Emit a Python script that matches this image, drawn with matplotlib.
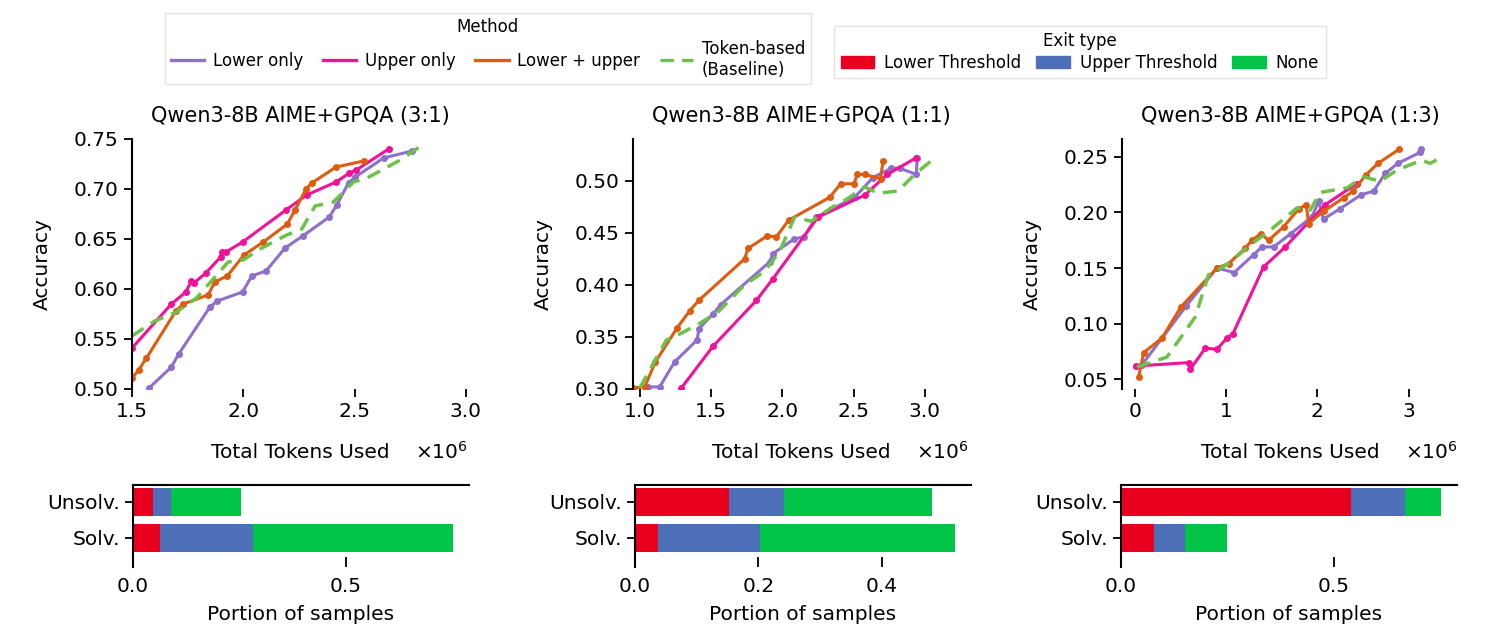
import matplotlib
matplotlib.use('Agg')
import matplotlib.pyplot as plt
import numpy as np
from matplotlib.lines import Line2D
from matplotlib.patches import Patch
from matplotlib.ticker import FormatStrFormatter

# ---- data (x in millions of tokens, y = accuracy) ----
titles = ['Qwen3-8B AIME+GPQA (3:1)', 'Qwen3-8B AIME+GPQA (1:1)', 'Qwen3-8B AIME+GPQA (1:3)']
methods = ['Lower only', 'Upper only', 'Lower + upper', 'Token-based\n(Baseline)']

# panel 1 (3:1)
p1_lower_x = [1.577, 1.677, 1.710, 1.850, 1.883, 1.997, 2.038, 2.102, 2.188, 2.267, 2.387, 2.420, 2.473, 2.503, 2.631, 2.758]
p1_lower_y = [0.501, 0.522, 0.535, 0.582, 0.588, 0.597, 0.613, 0.618, 0.641, 0.653, 0.672, 0.684, 0.706, 0.712, 0.731, 0.738]
p1_upper_x = [1.50, 1.677, 1.742, 1.767, 1.778, 1.832, 1.898, 1.905, 1.922, 1.997, 2.192, 2.285, 2.417, 2.477, 2.508, 2.653]
p1_upper_y = [0.541, 0.585, 0.597, 0.608, 0.606, 0.616, 0.632, 0.637, 0.637, 0.647, 0.679, 0.694, 0.707, 0.716, 0.719, 0.740]
p1_both_x = [1.50, 1.530, 1.565, 1.697, 1.730, 1.842, 1.872, 1.928, 2.003, 2.090, 2.198, 2.233, 2.282, 2.308, 2.417, 2.541]
p1_both_y = [0.511, 0.519, 0.531, 0.578, 0.585, 0.594, 0.607, 0.613, 0.634, 0.647, 0.665, 0.679, 0.700, 0.706, 0.722, 0.728]
p1_base_x = [1.50, 1.602, 1.700, 1.790, 1.865, 1.932, 2.000, 2.075, 2.195, 2.263, 2.323, 2.405, 2.495, 2.556, 2.706, 2.818]
p1_base_y = [0.553, 0.568, 0.577, 0.591, 0.610, 0.627, 0.629, 0.640, 0.654, 0.660, 0.683, 0.687, 0.707, 0.711, 0.729, 0.746]

# panel 2 (1:1)
p2_lower_x = [0.953, 1.058, 1.140, 1.245, 1.402, 1.416, 1.514, 1.568, 1.911, 1.935, 2.082, 2.152, 2.238, 2.507, 2.636, 2.764, 2.822, 2.939, 2.946]
p2_lower_y = [0.301, 0.302, 0.302, 0.326, 0.347, 0.358, 0.372, 0.381, 0.422, 0.430, 0.444, 0.446, 0.465, 0.484, 0.503, 0.512, 0.512, 0.506, 0.522]
p2_upper_x = [1.292, 1.514, 1.818, 1.935, 2.250, 2.577, 2.736, 2.939]
p2_upper_y = [0.301, 0.341, 0.385, 0.406, 0.465, 0.486, 0.506, 0.522]
p2_both_x = [0.953, 1.035, 1.110, 1.264, 1.350, 1.414, 1.736, 1.759, 1.895, 1.958, 2.044, 2.332, 2.409, 2.502, 2.526, 2.577, 2.689, 2.706]
p2_both_y = [0.301, 0.302, 0.326, 0.359, 0.375, 0.385, 0.425, 0.435, 0.447, 0.446, 0.462, 0.484, 0.497, 0.497, 0.506, 0.506, 0.502, 0.519]
p2_base_x = [1.000, 1.187, 1.269, 1.409, 1.549, 1.736, 1.876, 1.981, 2.086, 2.203, 2.343, 2.449, 2.577, 2.671, 2.811, 2.928, 3.044]
p2_base_y = [0.301, 0.347, 0.352, 0.362, 0.374, 0.400, 0.413, 0.432, 0.465, 0.461, 0.474, 0.482, 0.494, 0.488, 0.490, 0.506, 0.519]

# panel 3 (1:3)
p3_lower_x = [0.018, 0.080, 0.566, 0.901, 1.091, 1.303, 1.394, 1.522, 1.712, 1.942, 2.015, 2.069, 2.245, 2.482, 2.617, 2.745, 2.880, 3.128, 3.135]
p3_lower_y = [0.062, 0.063, 0.116, 0.150, 0.146, 0.162, 0.169, 0.169, 0.181, 0.196, 0.210, 0.194, 0.203, 0.216, 0.219, 0.235, 0.244, 0.254, 0.257]
p3_upper_x = [0.018, 0.591, 0.609, 0.774, 0.901, 1.011, 1.077, 1.412, 1.650, 2.088, 2.434]
p3_upper_y = [0.062, 0.065, 0.059, 0.078, 0.077, 0.087, 0.091, 0.151, 0.169, 0.207, 0.226]
p3_both_x = [0.044, 0.099, 0.299, 0.507, 0.901, 1.029, 1.212, 1.285, 1.383, 1.467, 1.631, 1.796, 1.880, 1.905, 2.069, 2.288, 2.391, 2.536, 2.664, 2.901]
p3_both_y = [0.052, 0.074, 0.087, 0.115, 0.150, 0.154, 0.168, 0.175, 0.181, 0.175, 0.187, 0.203, 0.207, 0.190, 0.201, 0.213, 0.219, 0.234, 0.244, 0.257]
p3_base_x = [0.026, 0.354, 0.664, 0.810, 1.011, 1.303, 1.485, 1.777, 1.923, 2.033, 2.325, 2.507, 2.690, 2.872, 3.146, 3.237, 3.365]
p3_base_y = [0.061, 0.070, 0.106, 0.144, 0.153, 0.173, 0.184, 0.204, 0.202, 0.218, 0.222, 0.232, 0.228, 0.238, 0.247, 0.244, 0.250]

# exit type portions: rows = [Solv., Unsolv.]
exit_types = ['Lower Threshold', 'Upper Threshold', 'None']
rows = ['Solv.', 'Unsolv.']
p1_lower_exit = [0.064, 0.047]
p1_upper_exit = [0.218, 0.043]
p1_none_exit = [0.469, 0.164]
p2_lower_exit = [0.037, 0.153]
p2_upper_exit = [0.165, 0.089]
p2_none_exit = [0.317, 0.239]
p3_lower_exit = [0.078, 0.540]
p3_upper_exit = [0.073, 0.127]
p3_none_exit = [0.099, 0.085]

line_colors = ['#8e6fcb', '#f0139a', '#dd5c10', '#6cc248']
bar_colors = ['#e8001e', '#4c6fb8', '#00c447']

lines_data = [
    [(p1_lower_x, p1_lower_y), (p1_upper_x, p1_upper_y), (p1_both_x, p1_both_y), (p1_base_x, p1_base_y)],
    [(p2_lower_x, p2_lower_y), (p2_upper_x, p2_upper_y), (p2_both_x, p2_both_y), (p2_base_x, p2_base_y)],
    [(p3_lower_x, p3_lower_y), (p3_upper_x, p3_upper_y), (p3_both_x, p3_both_y), (p3_base_x, p3_base_y)],
]
bars_data = [
    (p1_lower_exit, p1_upper_exit, p1_none_exit),
    (p2_lower_exit, p2_upper_exit, p2_none_exit),
    (p3_lower_exit, p3_upper_exit, p3_none_exit),
]
xlims = [(1.5, 3.01), (0.953, 3.309), (-0.138, 3.542)]
ylims = [(0.5, 0.75), (0.30, 0.540), (0.0413, 0.266)]
xticks = [[1.5, 2.0, 2.5, 3.0], [1.0, 1.5, 2.0, 2.5, 3.0], [0, 1, 2, 3]]
yticks = [[0.50, 0.55, 0.60, 0.65, 0.70, 0.75],
          [0.30, 0.35, 0.40, 0.45, 0.50],
          [0.05, 0.10, 0.15, 0.20, 0.25]]
bar_xticks = [[0.0, 0.5], [0.0, 0.2, 0.4], [0.0, 0.5]]

plt.rcParams['font.family'] = 'DejaVu Sans'
plt.rcParams['font.size'] = 14.5

fig = plt.figure(figsize=(14.87, 6.41), dpi=100)
W, H = 1487, 641
lefts = [132, 633, 1122]
bar_lefts = [133, 635, 1121]

for i in range(3):
    ax = fig.add_axes([lefts[i] / W, 1 - 389 / H, 336 / W, 250 / H])
    for j, (xs, ys) in enumerate(lines_data[i]):
        if j == 3:
            ax.plot(xs, ys, color=line_colors[j], lw=2.5, ls=(0, (4, 2.5)))
        else:
            ax.plot(xs, ys, color=line_colors[j], lw=2.2, marker='o', ms=4)
    ax.set_xlim(xlims[i])
    ax.set_ylim(ylims[i])
    ax.set_xticks(xticks[i])
    ax.set_yticks(yticks[i])
    if i == 2:
        ax.xaxis.set_major_formatter(FormatStrFormatter('%d'))
    else:
        ax.xaxis.set_major_formatter(FormatStrFormatter('%.1f'))
    ax.yaxis.set_major_formatter(FormatStrFormatter('%.2f'))
    for s in ['top', 'right', 'bottom']:
        ax.spines[s].set_visible(False)
    ax.spines['left'].set_linewidth(1.5)
    ax.tick_params(length=6, width=1.3, labelsize=14.5)
    ax.set_title(titles[i], fontsize=15, pad=12)
    ax.set_ylabel('Accuracy', fontsize=14.5)
    ax.yaxis.set_label_coords(-0.24, 0.5)
    ax.set_xlabel('Total Tokens Used', fontsize=14.5)
    ax.xaxis.set_label_coords(0.5, -0.215)
    ax.text(1.0, -0.25, r'$\times10^{6}$', transform=ax.transAxes,
            ha='right', va='center', fontsize=14.5)

    # exit type bars
    bx = fig.add_axes([bar_lefts[i] / W, 1 - 567 / H, 336 / W, 82 / H])
    low, up, none = [np.array(v) for v in bars_data[i]]
    y = np.arange(len(rows))
    bx.barh(y, low, height=0.8, color=bar_colors[0])
    bx.barh(y, up, left=low, height=0.8, color=bar_colors[1])
    bx.barh(y, none, left=low + up, height=0.8, color=bar_colors[2])
    total = low + up + none
    bx.set_xlim(0, total.max() * 1.05)
    bx.set_ylim(-0.806, 1.472)
    bx.set_yticks(y)
    bx.set_yticklabels(rows)
    bx.set_xticks(bar_xticks[i])
    bx.xaxis.set_major_formatter(FormatStrFormatter('%.1f'))
    bx.spines['right'].set_visible(False)
    bx.spines['bottom'].set_visible(False)
    bx.spines['top'].set_linewidth(1.5)
    bx.spines['left'].set_linewidth(1.5)
    bx.tick_params(axis='y', length=6, width=1.3, labelsize=14.5)
    bx.tick_params(axis='x', direction='in', length=7, width=1.3, labelsize=14.5, pad=7)
    bx.set_xlabel('Portion of samples', fontsize=14.5, labelpad=7)

# legends
method_handles = [Line2D([], [], color=line_colors[0], lw=2.4),
                  Line2D([], [], color=line_colors[1], lw=2.4),
                  Line2D([], [], color=line_colors[2], lw=2.4),
                  Line2D([], [], color=line_colors[3], lw=2.4, ls=(0, (4, 2.5)))]
leg1 = fig.legend(method_handles, methods, title='Method', ncol=4, loc='center',
                  bbox_to_anchor=(488 / W, 1 - 48.5 / H), fontsize=12, title_fontsize=12,
                  handlelength=2.0, columnspacing=1.2, borderpad=0.35, labelspacing=0.2,
                  handletextpad=0.5, fancybox=False, edgecolor='#dddddd')
exit_handles = [Patch(color=c) for c in bar_colors]
leg2 = fig.legend(exit_handles, exit_types, title='Exit type', ncol=3, loc='center',
                  bbox_to_anchor=(1080 / W, 1 - 52 / H), fontsize=12, title_fontsize=12,
                  handlelength=2.0, columnspacing=0.9, borderpad=0.4, labelspacing=0.2,
                  handletextpad=0.6, fancybox=False, edgecolor='#dddddd')

fig.savefig('out.png', dpi=100)
